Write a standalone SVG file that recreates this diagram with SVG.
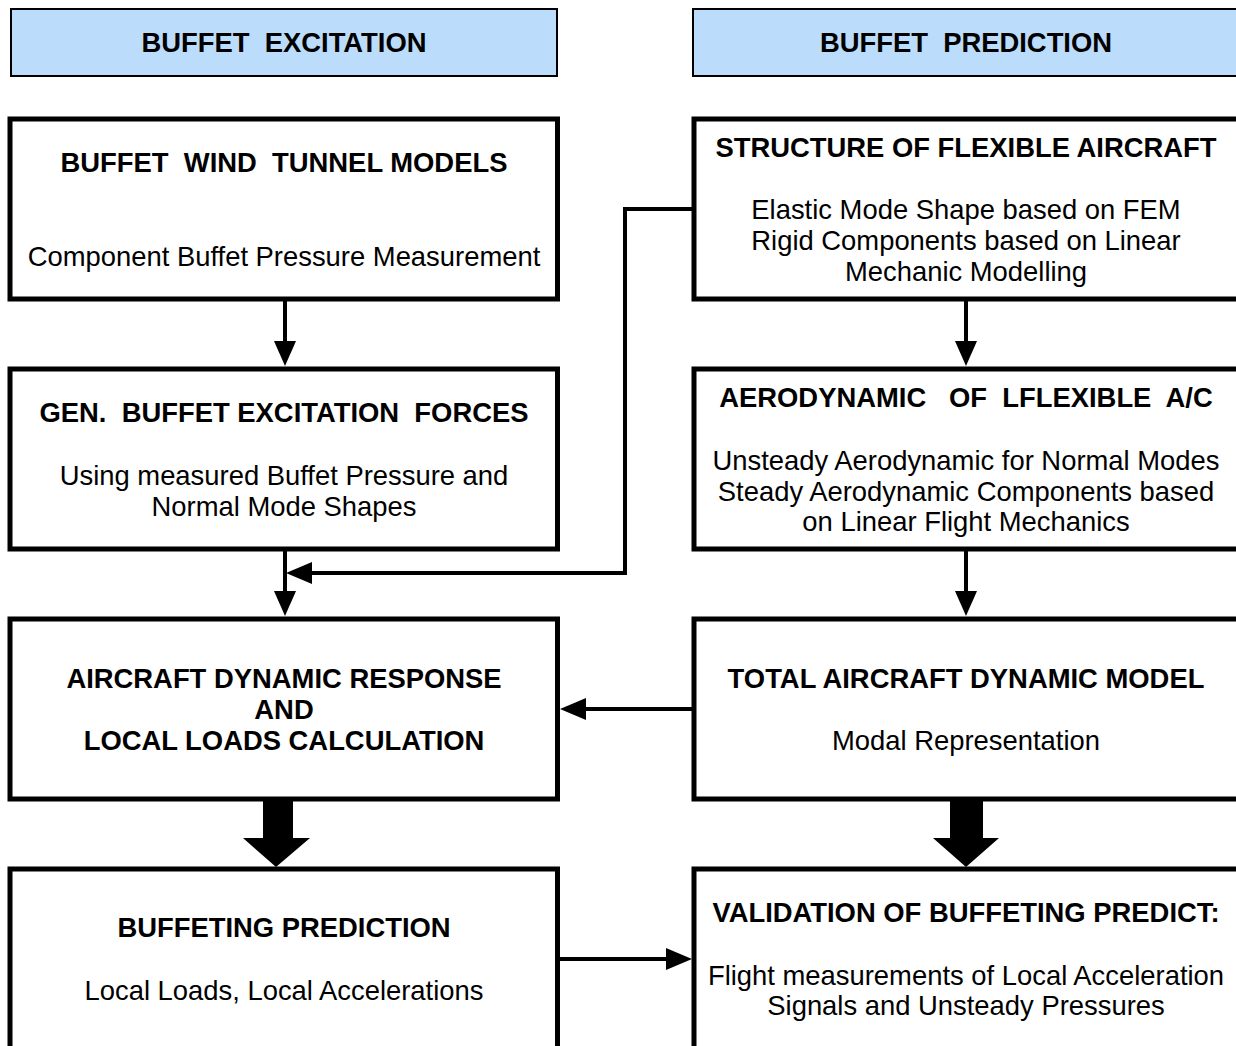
<svg xmlns="http://www.w3.org/2000/svg" width="1236" height="1046" viewBox="0 0 1236 1046">
<style>
text{font-family:"Liberation Sans",Arial,sans-serif;font-size:27.4px;fill:#000;text-anchor:middle;white-space:pre}
.b{font-weight:bold}
.hdr{fill:#BBDDFB;stroke:#000;stroke-width:2}
.box{fill:#fff;stroke:#000;stroke-width:5}
.ln{fill:none;stroke:#000;stroke-width:4}
.ah{fill:#000}
</style>
<rect width="1236" height="1046" fill="#fff"/>
<g id="hdr-excitation"><rect class="hdr" x="11" y="9" width="546" height="67"/><text class="b" x="284" y="52">BUFFET  EXCITATION</text></g>
<g id="hdr-prediction"><rect class="hdr" x="693" y="9" width="560" height="67"/><text class="b" x="966" y="52">BUFFET  PREDICTION</text></g>
<g id="wind-tunnel"><rect class="box" x="10" y="119" width="547.5" height="180"/><text class="b" x="284" y="172">BUFFET  WIND  TUNNEL MODELS</text><text x="284" y="266">Component Buffet Pressure Measurement</text></g>
<g id="structure"><rect class="box" x="694" y="119" width="560" height="180"/><text class="b" x="966" y="157">STRUCTURE OF FLEXIBLE AIRCRAFT</text><text x="966" y="219">Elastic Mode Shape based on FEM</text><text x="966" y="250">Rigid Components based on Linear</text><text x="966" y="281">Mechanic Modelling</text></g>
<g id="gen-forces"><rect class="box" x="10" y="369" width="547.5" height="180"/><text class="b" x="284" y="422">GEN.  BUFFET EXCITATION  FORCES</text><text x="284" y="485">Using measured Buffet Pressure and</text><text x="284" y="516">Normal Mode Shapes</text></g>
<g id="aerodynamic"><rect class="box" x="694" y="369" width="560" height="180"/><text class="b" x="966" y="407">AERODYNAMIC   OF  LFLEXIBLE  A/C</text><text x="966" y="470">Unsteady Aerodynamic for Normal Modes</text><text x="966" y="501">Steady Aerodynamic Components based</text><text x="966" y="531">on Linear Flight Mechanics</text></g>
<g id="response"><rect class="box" x="10" y="619" width="547.5" height="180"/><text class="b" x="284" y="688">AIRCRAFT DYNAMIC RESPONSE</text><text class="b" x="284" y="719">AND</text><text class="b" x="284" y="750">LOCAL LOADS CALCULATION</text></g>
<g id="total-model"><rect class="box" x="694" y="619" width="560" height="180"/><text class="b" x="966" y="688">TOTAL AIRCRAFT DYNAMIC MODEL</text><text x="966" y="750">Modal Representation</text></g>
<g id="buffeting-prediction"><rect class="box" x="10" y="869" width="547.5" height="200"/><text class="b" x="284" y="937">BUFFETING PREDICTION</text><text x="284" y="1000">Local Loads, Local Accelerations</text></g>
<g id="validation"><rect class="box" x="694" y="869" width="560" height="200"/><text class="b" x="966" y="922">VALIDATION OF BUFFETING PREDICT:</text><text x="966" y="985">Flight measurements of Local Acceleration</text><text x="966" y="1015">Signals and Unsteady Pressures</text></g>
<g id="connectors">
<path class="ln" d="M285 301V342"/><polygon class="ah" points="274,341 296,341 285,366"/>
<path class="ln" d="M966 301V342"/><polygon class="ah" points="955,341 977,341 966,366"/>
<path class="ln" d="M285 551V592"/><polygon class="ah" points="274,591 296,591 285,616"/>
<path class="ln" d="M966 551V592"/><polygon class="ah" points="955,591 977,591 966,616"/>
<path class="ln" d="M692 209H625V573H310"/><polygon class="ah" points="286,573 312,562 312,584"/>
<path class="ln" d="M692 709H584"/><polygon class="ah" points="560,709 586,698 586,720"/>
<path class="ln" d="M559 959H668"/><polygon class="ah" points="692,959 666,948 666,970"/>
<polygon class="ah" points="263,801 293,801 293,838 310,838 276,867 243,838 263,838"/>
<polygon class="ah" points="950,801 983,801 983,838 999,838 966,867 933,838 950,838"/>
</g>
</svg>
